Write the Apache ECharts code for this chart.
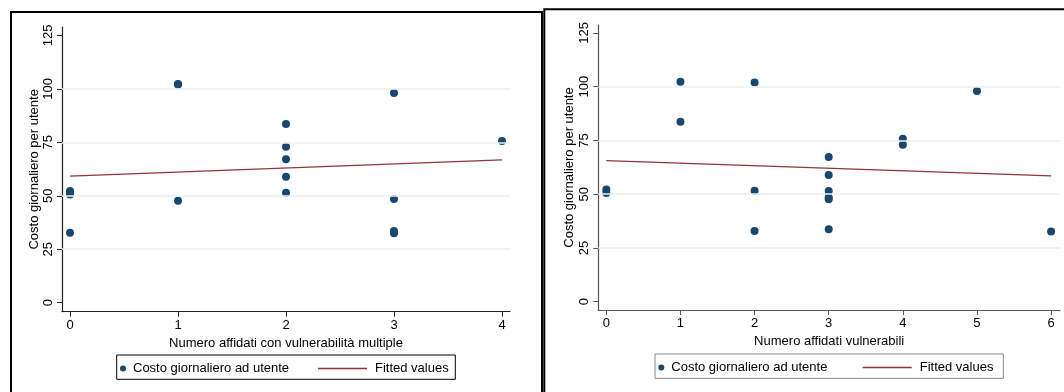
<!DOCTYPE html>
<html>
<head>
<meta charset="utf-8">
<script src="https://cdn.jsdelivr.net/npm/echarts@6/dist/echarts.min.js"></script>
<style>
html,body{margin:0;padding:0;background:#fff;}
#c{width:1064px;height:392px;}
</style>
</head>
<body>
<div id="c"></div>
<script>
// ---- data ----
const leftX = [0, 0, 0, 0, 1, 1, 1, 2, 2, 2, 2, 2, 3, 3, 3, 3, 4];
const leftY = [52.2, 51.5, 50.6, 32.7, 102.3, 102.0, 47.7, 83.6, 72.9, 67.1, 58.9, 51.4, 98.0, 48.5, 33.5, 32.5, 75.6];
const leftFitX = [0, 4];
const leftFitY = [59.2, 66.8];

const rightX = [0, 0, 1, 1, 2, 2, 2, 3, 3, 3, 3, 3, 3, 4, 4, 5, 6];
const rightY = [52.2, 50.6, 102.3, 83.7, 102.0, 51.6, 32.9, 67.3, 58.9, 51.5, 48.6, 47.6, 33.7, 75.8, 73.0, 98.0, 32.6];
const rightFitX = [0, 6];
const rightFitY = [65.6, 58.5];

const yTicks = [0, 25, 50, 75, 100, 125];
const yGrid = [25, 50, 75, 100];
const leftXTicks = [0, 1, 2, 3, 4];
const rightXTicks = [0, 1, 2, 3, 4, 5, 6];

const scatterName = 'Costo giornaliero ad utente';
const fitName = 'Fitted values';
const leftXTitle = 'Numero affidati con vulnerabilità multiple';
const rightXTitle = 'Numero affidati vulnerabili';
const yTitle = 'Costo giornaliero per utente';

// ---- style ----
const FONT = 'Liberation Sans, Arial, sans-serif';
const NAVY = '#1a476f';
const MAROON = '#90353b';
const GRIDC = '#e8f0f1';

function pts(xs, ys) { return xs.map((x, i) => [x, ys[i]]); }

function xAxisCfg(idx, ticks, min, max, title, axisColor) {
  return {
    gridIndex: idx, type: 'value', min: min, max: max,
    name: title, nameLocation: 'middle', nameGap: 20,
    nameTextStyle: { color: '#000', fontSize: 13, fontFamily: FONT },
    axisLine: { show: true, onZero: false, lineStyle: { color: axisColor, width: 1.2 } },
    axisTick: { show: true, inside: false, length: 5, customValues: ticks, lineStyle: { color: axisColor } },
    axisLabel: { customValues: ticks, margin: 7, color: '#000', fontSize: 13, fontFamily: FONT },
    splitLine: { show: false }
  };
}
function yAxisCfg(idx, min, max, axisColor, gap) {
  return {
    gridIndex: idx, type: 'value', min: min, max: max,
    name: yTitle, nameLocation: 'middle', nameGap: gap,
    nameTextStyle: { color: '#000', fontSize: 13, fontFamily: FONT },
    axisLine: { show: true, onZero: false, lineStyle: { color: axisColor, width: 1.2 } },
    axisTick: { show: true, inside: false, length: 5, customValues: yTicks, lineStyle: { color: axisColor } },
    axisLabel: { customValues: yTicks, rotate: 90, margin: 7, color: '#000', fontSize: 13, fontFamily: FONT },
    splitLine: { show: false }
  };
}
function gridSeries(idx) {
  return {
    type: 'line', xAxisIndex: idx, yAxisIndex: idx, data: [], z: 1, silent: true,
    markLine: {
      silent: true, symbol: 'none', label: { show: false },
      lineStyle: { color: GRIDC, width: 1.5, type: 'solid' },
      data: yGrid.map(v => ({ yAxis: v }))
    }
  };
}
const legendText = { color: '#000', fontSize: 13, fontFamily: FONT };
const legendTextFit = { color: '#000', fontSize: 13, fontFamily: FONT, padding: [0, 0, 0, 3] };

const option = {
  animation: false,
  backgroundColor: '#fff',
  textStyle: { fontFamily: FONT },
  grid: [
    { left: 62, top: 27, width: 448, height: 284.7 },
    { left: 598.3, top: 25, width: 461.7, height: 285 }
  ],
  xAxis: [
    xAxisCfg(0, leftXTicks, -0.074, 4.074, leftXTitle, '#222'),
    xAxisCfg(1, rightXTicks, -0.108, 6.12, rightXTitle, '#555')
  ],
  yAxis: [
    yAxisCfg(0, -4.2, 128.9, '#222', 20),
    yAxisCfg(1, -3.86, 128.7, '#555', 22)
  ],
  legend: [
    { data: [{ name: scatterName, icon: 'circle' }], left: 120, top: 362, padding: 0, itemWidth: 10, itemHeight: 6,
      selectedMode: false, textStyle: legendText },
    { data: [{ name: fitName, icon: 'rect' }], left: 318, top: 362, padding: 0, itemWidth: 49, itemHeight: 1.3,
      selectedMode: false, textStyle: legendTextFit },
    { data: [{ name: scatterName, icon: 'circle' }], left: 658.3, top: 361, padding: 0, itemWidth: 10, itemHeight: 6,
      selectedMode: false, textStyle: legendText },
    { data: [{ name: fitName, icon: 'rect' }], left: 862.7, top: 361, padding: 0, itemWidth: 49, itemHeight: 1.3,
      selectedMode: false, textStyle: legendTextFit }
  ],
  graphic: [
    { type: 'rect', shape: { x: 11, y: 12, width: 531, height: 420 }, style: { fill: 'none', stroke: '#000', lineWidth: 2 }, silent: true },
    { type: 'rect', shape: { x: 544.3, y: 9.3, width: 560, height: 420 }, style: { fill: 'none', stroke: '#000', lineWidth: 2 }, silent: true },
    { type: 'rect', shape: { x: 116.7, y: 355, width: 338.6, height: 24.3 }, style: { fill: 'none', stroke: '#000', lineWidth: 1 }, silent: true },
    { type: 'rect', shape: { x: 655, y: 354, width: 348.3, height: 24.3 }, style: { fill: 'none', stroke: '#888', lineWidth: 1 }, silent: true }
  ],
  series: [
    gridSeries(0),
    { name: fitName, type: 'line', xAxisIndex: 0, yAxisIndex: 0, symbol: 'none', z: 2,
      lineStyle: { color: MAROON, width: 1.3 }, itemStyle: { color: MAROON }, data: pts(leftFitX, leftFitY) },
    { name: scatterName, type: 'scatter', xAxisIndex: 0, yAxisIndex: 0, symbol: 'circle', symbolSize: 8, z: 3,
      itemStyle: { color: NAVY, opacity: 1 }, data: pts(leftX, leftY) },
    gridSeries(1),
    { name: fitName, type: 'line', xAxisIndex: 1, yAxisIndex: 1, symbol: 'none', z: 2,
      lineStyle: { color: MAROON, width: 1.3 }, itemStyle: { color: MAROON }, data: pts(rightFitX, rightFitY) },
    { name: scatterName, type: 'scatter', xAxisIndex: 1, yAxisIndex: 1, symbol: 'circle', symbolSize: 8, z: 3,
      itemStyle: { color: NAVY, opacity: 1 }, data: pts(rightX, rightY) }
  ]
};

const chart = echarts.init(document.getElementById('c'), null, { renderer: 'canvas' });
chart.setOption(option);
</script>
</body>
</html>
